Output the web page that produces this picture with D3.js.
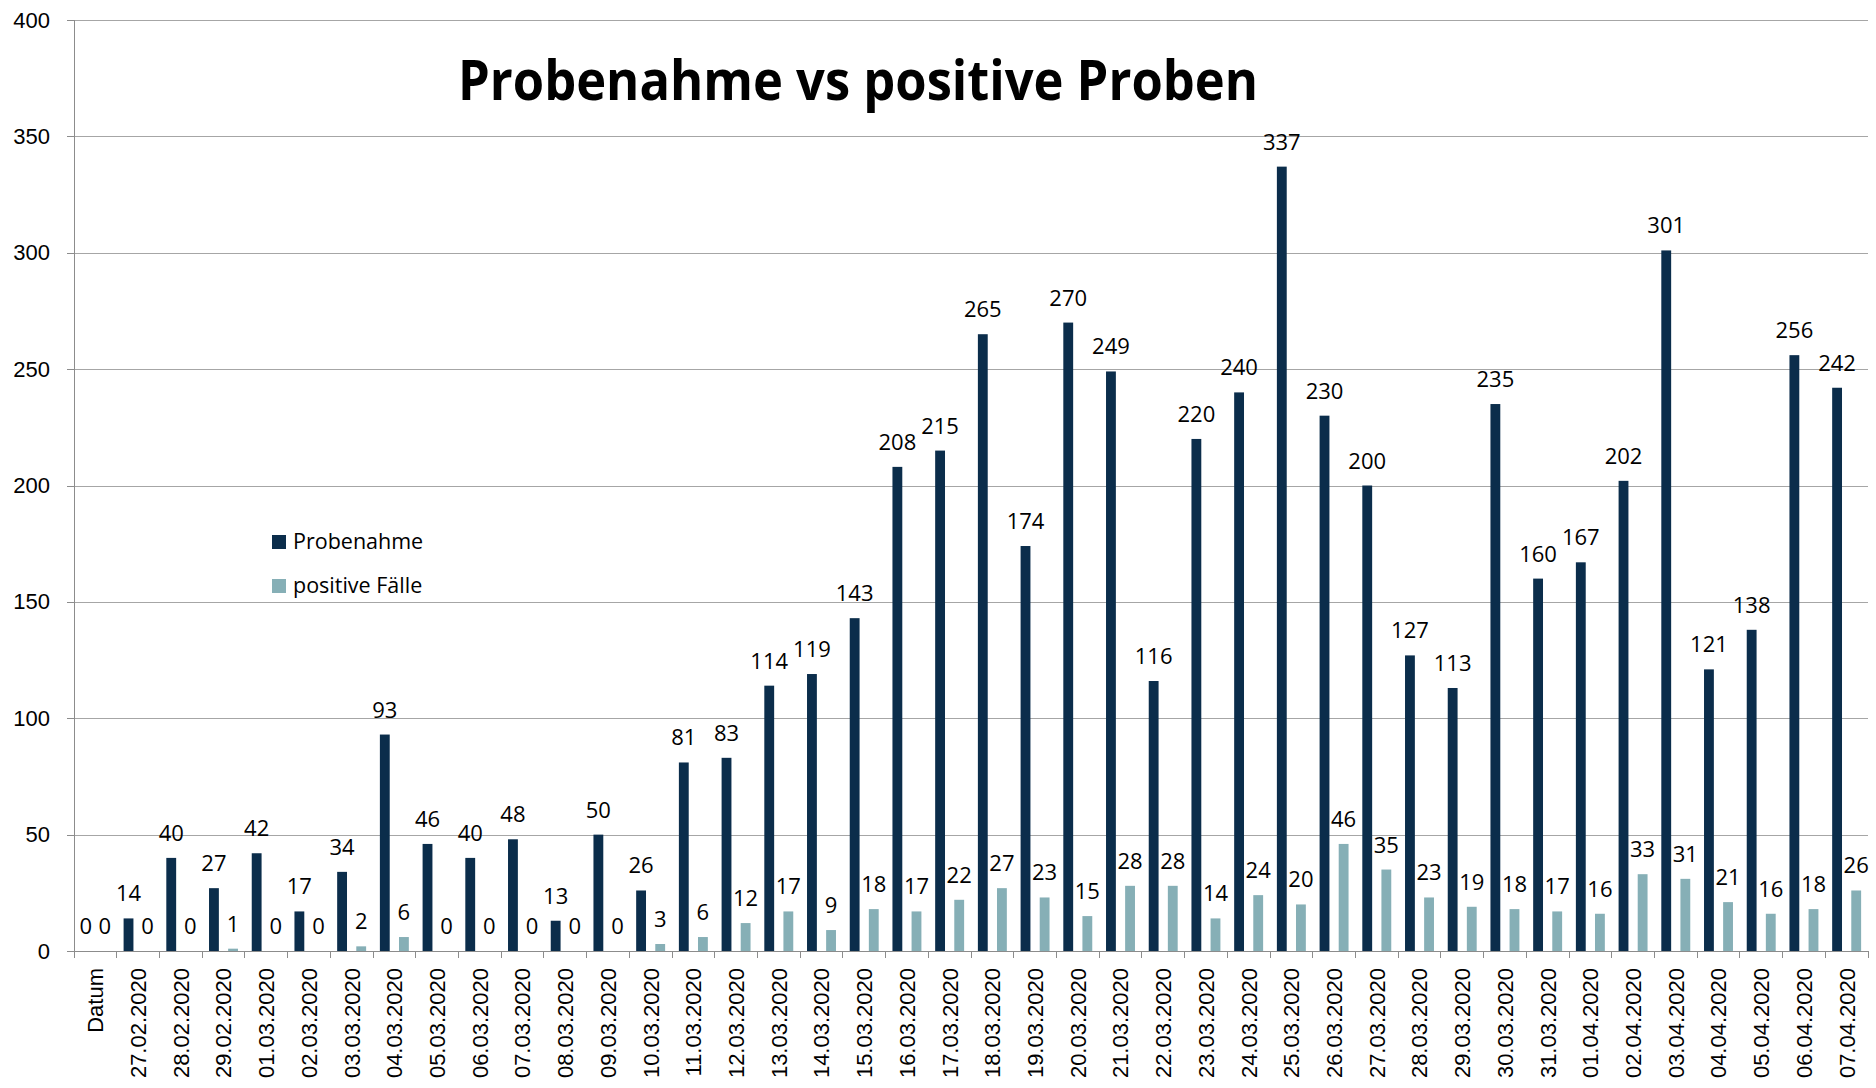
<!DOCTYPE html>
<html lang="de">
<head>
<meta charset="UTF-8">
<script src="https://cdnjs.cloudflare.com/ajax/libs/d3/7.8.5/d3.min.js"></script>
<style>
body { margin: 0; background: white; }
svg { display: block; font-family: "Open Sans", "Noto Sans", sans-serif; }
.grid line { stroke: #a6a6a6; stroke-width: 1; shape-rendering: crispEdges; }
.grid path { display: none; }
.axis path, .axis line { stroke: #8c8c8c; shape-rendering: crispEdges; }
.axis text { fill: #000; }
</style>
</head>
<body>
<script>
var categories = ["Datum", "27.02.2020", "28.02.2020", "29.02.2020", "01.03.2020", "02.03.2020",
  "03.03.2020", "04.03.2020", "05.03.2020", "06.03.2020", "07.03.2020", "08.03.2020", "09.03.2020",
  "10.03.2020", "11.03.2020", "12.03.2020", "13.03.2020", "14.03.2020", "15.03.2020", "16.03.2020",
  "17.03.2020", "18.03.2020", "19.03.2020", "20.03.2020", "21.03.2020", "22.03.2020", "23.03.2020",
  "24.03.2020", "25.03.2020", "26.03.2020", "27.03.2020", "28.03.2020", "29.03.2020", "30.03.2020",
  "31.03.2020", "01.04.2020", "02.04.2020", "03.04.2020", "04.04.2020", "05.04.2020", "06.04.2020",
  "07.04.2020"];
var probenahme = [0, 14, 40, 27, 42, 17, 34, 93, 46, 40, 48, 13, 50, 26, 81, 83, 114, 119, 143, 208,
  215, 265, 174, 270, 249, 116, 220, 240, 337, 230, 200, 127, 113, 235, 160, 167, 202, 301, 121, 138,
  256, 242];
var positive = [0, 0, 0, 1, 0, 0, 2, 6, 0, 0, 0, 0, 0, 3, 6, 12, 17, 9, 18, 17, 22, 27, 23, 15, 28,
  28, 14, 24, 20, 46, 35, 23, 19, 18, 17, 16, 33, 31, 21, 16, 18, 26];
var seriesNames = ["Probenahme", "positive Fälle"];
var seriesColors = ["#0b2d4b", "#86afb6"];
var yTicks = [0, 50, 100, 150, 200, 250, 300, 350, 400];

var W = 1876, H = 1088;
var margin = {top: 20, right: 8, bottom: 137, left: 74};
var width = W - margin.left - margin.right,
    height = H - margin.top - margin.bottom;

var svg = d3.select("body").append("svg")
  .attr("width", W).attr("height", H);
var g = svg.append("g")
  .attr("transform", "translate(" + margin.left + "," + margin.top + ")");

var x0 = d3.scaleBand().domain(categories).range([0, width]);
var x1 = d3.scaleBand().domain([0, 1]).range([0, x0.bandwidth()])
  .paddingInner(0.485).paddingOuter(0.36);
var y = d3.scaleLinear().domain([0, 400]).range([height, 0]);

// gridlines
g.append("g").attr("class", "grid")
  .call(d3.axisLeft(y).tickValues(yTicks.slice(1)).tickSize(-width).tickFormat(""));

// y axis
g.append("g").attr("class", "axis")
  .call(d3.axisLeft(y).tickValues(yTicks).tickSize(7).tickPadding(17))
  .call(a => a.selectAll("text").style("font-size", "22px"))
  .call(a => a.select(".domain").attr("d", "M0," + height + "V0"));

// x axis with ticks on category boundaries
var xAxis = g.append("g").attr("class", "axis")
  .attr("transform", "translate(0," + height + ")")
  .call(d3.axisBottom(x0).tickSize(0).tickPadding(0));
xAxis.select(".domain").attr("d", "M0,0H" + width);
xAxis.selectAll(".tick text")
  .attr("transform", "rotate(-90)")
  .attr("text-anchor", "end")
  .attr("x", -17)
  .attr("y", 0)
  .attr("dy", "0.36em")
  .style("font-size", "22px");
xAxis.selectAll(".sep")
  .data(categories.concat(["end"]))
  .enter().append("line")
  .attr("x1", (d, i) => i * x0.step())
  .attr("x2", (d, i) => i * x0.step())
  .attr("y1", 0).attr("y2", 7)
  .attr("stroke", "#8c8c8c");

var series = [probenahme, positive];

series.forEach(function(vals, s) {
  var grp = g.append("g");
  grp.selectAll("rect")
    .data(vals)
    .enter().append("rect")
    .attr("x", (d, i) => x0(categories[i]) + x1(s))
    .attr("width", x1.bandwidth())
    .attr("y", d => y(d))
    .attr("height", d => height - y(d))
    .attr("fill", seriesColors[s]);
  grp.selectAll("text")
    .data(vals)
    .enter().append("text")
    .attr("x", (d, i) => x0(categories[i]) + x1(s) + x1.bandwidth() / 2)
    .attr("y", d => y(d) - 17)
    .attr("text-anchor", "middle")
    .style("font-size", "22px")
    .text(d => d);
});

// title
svg.append("text")
  .attr("x", 858).attr("y", 100)
  .attr("text-anchor", "middle")
  .attr("textLength", 800)
  .attr("lengthAdjust", "spacingAndGlyphs")
  .style("font-size", "56px")
  .style("font-weight", "bold")
  .text("Probenahme vs positive Proben");

// legend
var legend = svg.selectAll(".legend")
  .data(seriesNames)
  .enter().append("g")
  .attr("class", "legend")
  .attr("transform", (d, i) => "translate(272," + (535 + i * 44) + ")");
legend.append("rect")
  .attr("width", 14).attr("height", 14)
  .attr("fill", (d, i) => seriesColors[i]);
legend.append("text")
  .attr("x", 21).attr("y", 14)
  .style("font-size", "21.5px")
  .text(d => d);
</script>
</body>
</html>
